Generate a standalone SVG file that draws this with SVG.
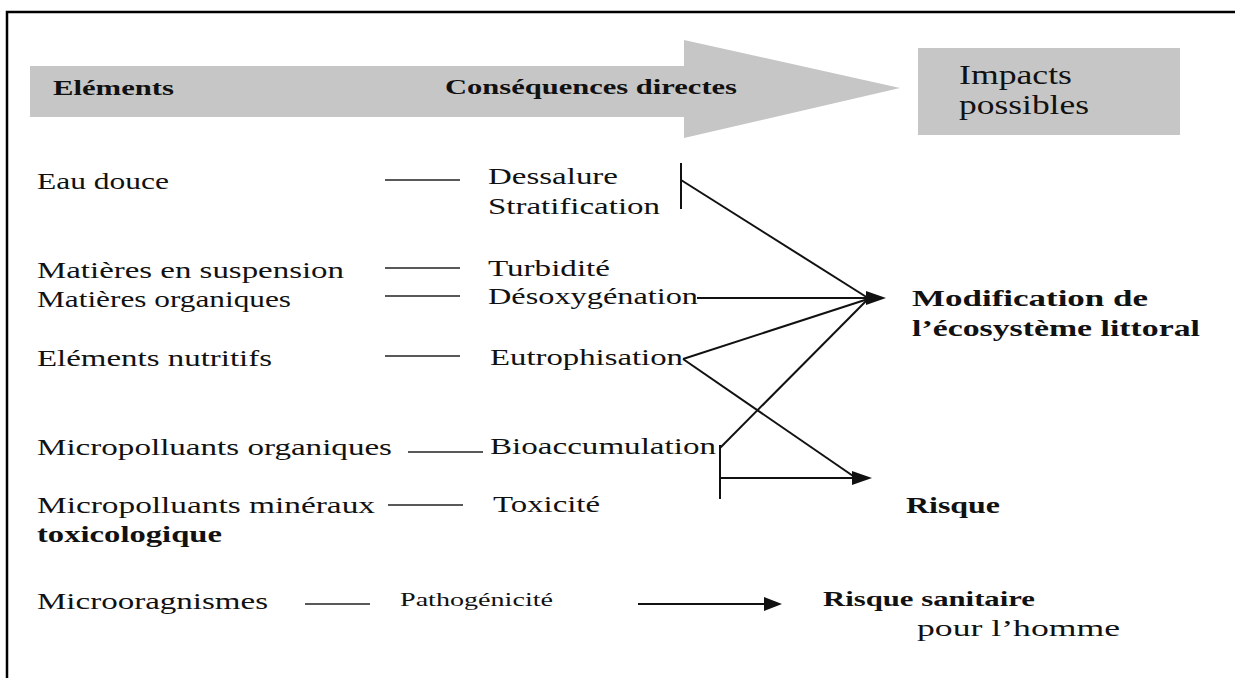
<svg xmlns="http://www.w3.org/2000/svg" width="1235" height="678" viewBox="0 0 1235 678">
<style>
.t{font-family:"Liberation Serif","Times New Roman",serif;font-size:24px;fill:#111}
.b{font-family:"Liberation Serif","Times New Roman",serif;font-size:22px;font-weight:bold;fill:#111}
.s{font-family:"Liberation Serif","Times New Roman",serif;font-size:19px;fill:#111}
.sb{font-family:"Liberation Serif","Times New Roman",serif;font-size:20px;font-weight:bold;fill:#111}
.l{stroke:#111;stroke-width:2;fill:none}
.d{stroke:#222;stroke-width:1.6;fill:none}
.g{fill:#c6c6c6}
.ah{fill:#111}
</style>
<rect width="1235" height="678" fill="#fff"/>
<path d="M7,678 V12 H1235" stroke="#000" stroke-width="2.5" fill="none"/>

<g id="header-arrow">
<path class="g" d="M30,66 H684 V40 L900,88 L684,138 V117 H30 Z"/>
<text class="b" x="53" y="95" textLength="121" lengthAdjust="spacingAndGlyphs">Eléments</text>
<text class="b" x="445" y="94" textLength="292" lengthAdjust="spacingAndGlyphs">Conséquences directes</text>
</g>
<g id="header-impacts">
<rect class="g" x="918" y="48" width="262" height="87"/>
<text class="t" x="959" y="84" style="font-size:28px" textLength="113" lengthAdjust="spacingAndGlyphs">Impacts</text>
<text class="t" x="959" y="114" style="font-size:28px" textLength="130" lengthAdjust="spacingAndGlyphs">possibles</text>
</g>

<g id="el-eau"><text class="t" x="37" y="189" textLength="132" lengthAdjust="spacingAndGlyphs">Eau douce</text></g>
<g id="el-mes"><text class="t" x="37" y="278" textLength="307" lengthAdjust="spacingAndGlyphs">Matières en suspension</text></g>
<g id="el-mo"><text class="t" x="37" y="307" textLength="254" lengthAdjust="spacingAndGlyphs">Matières organiques</text></g>
<g id="el-nut"><text class="t" x="37" y="366" textLength="235" lengthAdjust="spacingAndGlyphs">Eléments nutritifs</text></g>
<g id="el-mpo"><text class="t" x="37" y="455" textLength="355" lengthAdjust="spacingAndGlyphs">Micropolluants organiques</text></g>
<g id="el-mpm"><text class="t" x="37" y="513" textLength="338" lengthAdjust="spacingAndGlyphs">Micropolluants minéraux</text>
<text class="b" x="37" y="542" style="font-size:23px" textLength="185" lengthAdjust="spacingAndGlyphs">toxicologique</text></g>
<g id="el-micro"><text class="t" x="37" y="609" textLength="231" lengthAdjust="spacingAndGlyphs">Microoragnismes</text></g>

<g id="c-dess"><text class="t" x="488" y="184" textLength="130" lengthAdjust="spacingAndGlyphs">Dessalure</text>
<text class="t" x="488" y="214" textLength="172" lengthAdjust="spacingAndGlyphs">Stratification</text></g>
<g id="c-turb"><text class="t" x="488" y="276" textLength="122" lengthAdjust="spacingAndGlyphs">Turbidité</text></g>
<g id="c-deso"><text class="t" x="488" y="304" textLength="210" lengthAdjust="spacingAndGlyphs">Désoxygénation</text></g>
<g id="c-eutro"><text class="t" x="490" y="365" textLength="193" lengthAdjust="spacingAndGlyphs">Eutrophisation</text></g>
<g id="c-bio"><text class="t" x="490" y="454" textLength="226" lengthAdjust="spacingAndGlyphs">Bioaccumulation</text></g>
<g id="c-tox"><text class="t" x="493" y="512" textLength="107" lengthAdjust="spacingAndGlyphs">Toxicité</text></g>
<g id="c-patho"><text class="s" x="400" y="606" textLength="153" lengthAdjust="spacingAndGlyphs">Pathogénicité</text></g>

<g id="i-modif"><text class="b" x="912" y="306" style="font-size:23px" textLength="236" lengthAdjust="spacingAndGlyphs">Modification de</text>
<text class="b" x="912" y="336" style="font-size:23px" textLength="288" lengthAdjust="spacingAndGlyphs">l’écosystème littoral</text></g>
<g id="i-risque"><text class="b" x="906" y="513" style="font-size:23px" textLength="94" lengthAdjust="spacingAndGlyphs">Risque</text></g>
<g id="i-sanit"><text class="sb" x="823" y="606" textLength="212" lengthAdjust="spacingAndGlyphs">Risque sanitaire</text>
<text class="t" x="917" y="636" textLength="203" lengthAdjust="spacingAndGlyphs">pour l’homme</text></g>

<g id="connectors">
<line class="d" x1="385" y1="180" x2="460" y2="180"/>
<line class="d" x1="385" y1="268" x2="460" y2="268"/>
<line class="d" x1="385" y1="296" x2="460" y2="296"/>
<line class="d" x1="385" y1="356" x2="460" y2="356"/>
<line class="d" x1="408" y1="452" x2="483" y2="452"/>
<line class="d" x1="388" y1="505" x2="463" y2="505"/>
<line class="d" x1="305" y1="604" x2="370" y2="604"/>
<line class="l" x1="681" y1="163" x2="681" y2="209"/>
<line class="l" x1="681" y1="180" x2="868" y2="298"/>
<line class="l" x1="697" y1="298" x2="870" y2="298"/>
<line class="l" x1="683" y1="359" x2="868" y2="299"/>
<line class="l" x1="720" y1="448" x2="868" y2="299"/>
<polygon class="ah" points="886,298 866,291 866,305"/>
<line class="l" x1="683" y1="359" x2="856" y2="478"/>
<line class="l" x1="720" y1="445" x2="720" y2="499"/>
<line class="l" x1="720" y1="478" x2="856" y2="478"/>
<polygon class="ah" points="872,478 852,471 852,485"/>
<line class="l" x1="638" y1="604" x2="768" y2="604"/>
<polygon class="ah" points="782,604 764,597 764,611"/>
</g>
</svg>
